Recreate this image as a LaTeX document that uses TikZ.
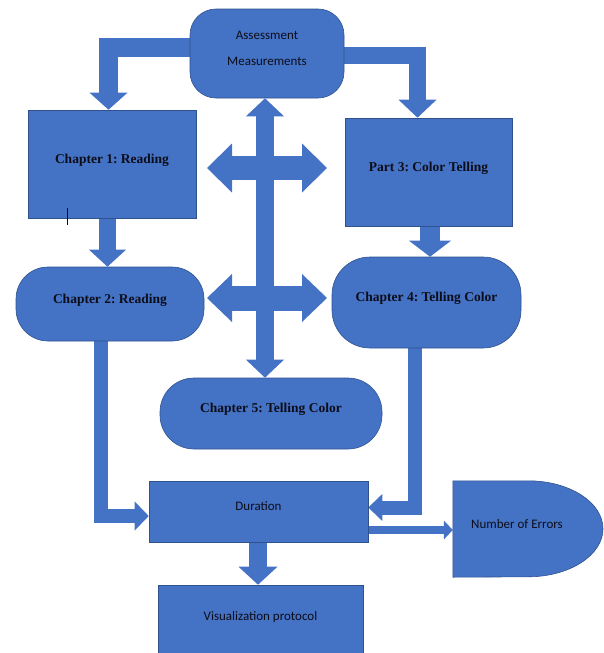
\documentclass[tikz,border=0pt]{standalone}
\usepackage{fontspec}
\setmainfont{Liberation Serif}
\setsansfont{Carlito}
\frenchspacing
\usetikzlibrary{arrows.meta,backgrounds}
\definecolor{boxblue}{HTML}{4472C4}
\definecolor{edgeblue}{HTML}{2F528F}
\definecolor{ink}{HTML}{0D0D1A}
\tikzset{
  blk/.style={draw=edgeblue,fill=boxblue,line width=0.6pt,text=ink,inner sep=0pt,text height=8pt,text depth=10pt},
  rndbox/.style={blk,rounded corners=#1},
  chap/.style={font=\bfseries\fontsize{13.5}{16}\selectfont},
  note/.style={font=\sffamily\fontsize{13}{15.6}\selectfont},
  fat/.style n args={3}{draw=boxblue,line width=#1,line join=miter,-{Triangle[width=#2,length=#3,line width=0pt]}},
  fatboth/.style n args={3}{draw=boxblue,line width=#1,{Triangle[width=#2,length=#3,line width=0pt]}-{Triangle[width=#2,length=#3,line width=0pt]}}
}
\begin{document}
\begin{tikzpicture}[x=1pt,y=-1pt]
\path[use as bounding box] (0,0) rectangle (604,653); \clip (0,0) rectangle (604,653);
\node[rndbox=26pt,note,minimum width=154pt,minimum height=89pt] (asm) at (267,53.5) {\begin{tabular}{@{}c@{}}Assessment\\[11pt]Measurements\end{tabular}};
\node[blk,chap,minimum width=168pt,minimum height=108pt] (ch1) at (112,164) {Chapter 1: Reading}; \node[blk,chap,minimum width=167pt,minimum height=108pt] (pt3) at (428.5,172) {Part 3: Color Telling};
\node[rndbox=32pt,chap,minimum width=188pt,minimum height=74pt] (ch2) at (110,304) {Chapter 2: Reading}; \node[rndbox=38pt,chap,minimum width=189pt,minimum height=91pt] (ch4) at (426.5,302.5) {Chapter 4: Telling Color};
\node[rndbox=34pt,chap,minimum width=222pt,minimum height=71pt] (ch5) at (271,413.5) {Chapter 5: Telling Color};
\node[blk,note,minimum width=219pt,minimum height=61pt] (dur) at (258.5,511.5) {Duration}; \node[blk,note,minimum width=205pt,minimum height=73pt] (vis) at (260.5,621.5) {Visualization protocol};
\node[note,text=ink,inner sep=0pt,text height=8pt,text depth=10pt,minimum width=150pt,minimum height=96pt] (err) at (528,529) {Number of Errors\kern22pt};
\coordinate (up-l) at (207,168); \coordinate (up-r) at (327,168); \coordinate (lo-l) at (207,298); \coordinate (lo-r) at (327,298);
\draw[ink,line width=0.8pt] (67,208) -- (67,225);
% block arrows behind the boxes
\begin{pgfonlayer}{background}
\draw[fat={19pt}{38pt}{17pt}] (asm.center |- 0,47.5) -| (ch1.north -| 108.5,0); \draw[fat={17pt}{38pt}{18pt}] (asm.center |- 0,55.5) -| (pt3.north -| 417.5,0);
\draw[fat={17pt}{37pt}{17pt}] (ch1.center -| 107.5,0) -- (ch2.north -| 107.5,0); \draw[fat={20pt}{42pt}{16pt}] (pt3.center -| 430,0) -- (ch4.north -| 430,0);
\draw[fatboth={18pt}{38pt}{18pt}] (asm.south -| 265,0) -- (ch5.north -| 265,0);
\draw[fatboth={24pt}{49pt}{25pt}] (up-l) -- (up-r); \draw[fatboth={25pt}{48pt}{25pt}] (lo-l) -- (lo-r);
\draw[fat={14pt}{29pt}{14pt}] (ch2.center -| 101,0) |- (dur.west |- 0,516); \draw[fat={14pt}{27pt}{14pt}] (ch4.center -| 415,0) |- (dur.east |- 0,507.5);
\draw[fat={8pt}{19pt}{9pt}] (dur.center |- 0,530) -- (err.west |- 0,530); \draw[fat={18pt}{39pt}{18pt}] (dur.center -| 258,0) -- (vis.north -| 258,0);
\draw[draw=edgeblue,fill=boxblue,line width=0.6pt] (err.north west) -- (err.north) arc[start angle=90,end angle=-90,x radius=75pt,y radius=48pt] -- (err.south west) -- cycle;
\end{pgfonlayer}
\end{tikzpicture}
\end{document}
